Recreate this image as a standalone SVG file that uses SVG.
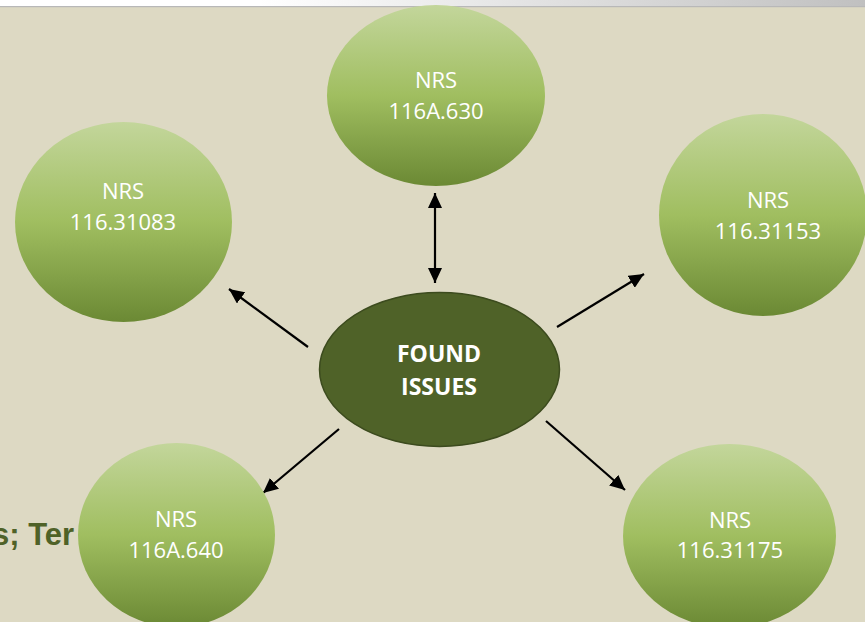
<svg xmlns="http://www.w3.org/2000/svg" width="865" height="622" viewBox="0 0 865 622">
<style>
.node{fill:url(#g)}
.lbl{font-family:"Open Sans","Liberation Sans",sans-serif;font-size:22px;fill:#ffffff;text-anchor:middle}
.bold{font-weight:bold;font-size:23px}
.conn line{stroke:#000;stroke-width:2.2}
</style>
<defs>
<linearGradient id="g" x1="0" y1="0" x2="0" y2="1">
<stop offset="0" stop-color="#c3d69b"/>
<stop offset="0.5" stop-color="#a0be60"/>
<stop offset="1" stop-color="#6b8934"/>
</linearGradient>
<linearGradient id="bar" x1="0" y1="0" x2="1" y2="0">
<stop offset="0.3" stop-color="#ffffff"/>
<stop offset="1" stop-color="#c0c0c0"/>
</linearGradient>
<marker id="ah" markerUnits="userSpaceOnUse" markerWidth="16" markerHeight="14" viewBox="0 0 16 14" refX="15" refY="7" orient="auto-start-reverse">
<path d="M0,0 L15,7 L0,14 Z" fill="#000"/>
</marker>
</defs>
<rect x="0" y="0" width="865" height="622" fill="#ddd9c3"/>
<rect x="0" y="0" width="865" height="6" fill="url(#bar)"/>
<rect x="0" y="6" width="865" height="1.2" fill="#b8b8b8"/>
<text x="-8" y="545" font-family="Liberation Sans, Arial, sans-serif" font-size="31" font-weight="bold" fill="#4f6228">s; Ter</text>
<g class="conn">
<line x1="435" y1="193" x2="435" y2="283" marker-start="url(#ah)" marker-end="url(#ah)"/>
<line x1="308" y1="347" x2="229" y2="289" marker-end="url(#ah)"/>
<line x1="557" y1="327" x2="644" y2="274" marker-end="url(#ah)"/>
<line x1="339" y1="429" x2="263" y2="493" marker-end="url(#ah)"/>
<line x1="546" y1="421" x2="625" y2="490" marker-end="url(#ah)"/>
</g>
<g id="n-top">
<ellipse class="node" cx="436" cy="95.5" rx="109" ry="90.5"/>
<text class="lbl" x="436" y="88">NRS</text>
<text class="lbl" x="436" y="119">116A.630</text>
</g>
<g id="n-topleft">
<ellipse class="node" cx="123.5" cy="222" rx="108.5" ry="100"/>
<text class="lbl" x="123" y="199">NRS</text>
<text class="lbl" x="123" y="230">116.31083</text>
</g>
<g id="n-topright">
<ellipse class="node" cx="763" cy="215" rx="104" ry="101"/>
<text class="lbl" x="768" y="208">NRS</text>
<text class="lbl" x="768" y="239">116.31153</text>
</g>
<g id="n-center">
<ellipse cx="439.5" cy="369.5" rx="120" ry="77" fill="#4f6228" stroke="#3c4b1e" stroke-width="1.5"/>
<text class="lbl bold" x="439" y="362">FOUND</text>
<text class="lbl bold" x="439" y="395">ISSUES</text>
</g>
<g id="n-bottomleft">
<ellipse class="node" cx="176.5" cy="535" rx="98.5" ry="92"/>
<text class="lbl" x="176" y="527">NRS</text>
<text class="lbl" x="176" y="558">116A.640</text>
</g>
<g id="n-bottomright">
<ellipse class="node" cx="729.5" cy="536" rx="106.5" ry="92"/>
<text class="lbl" x="730" y="528">NRS</text>
<text class="lbl" x="730" y="558">116.31175</text>
</g>
</svg>
